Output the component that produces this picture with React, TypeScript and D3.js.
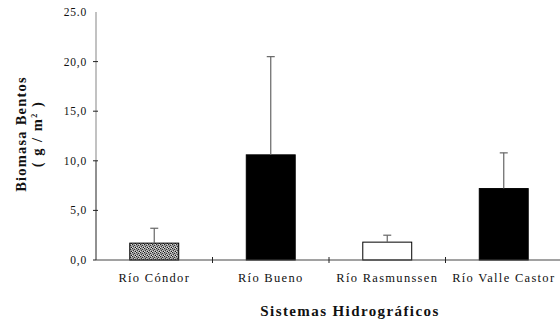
import React from 'react';
import * as d3 from 'd3';

// values (g/m2)
const categories = ['Río Cóndor', 'Río Bueno', 'Río Rasmunssen', 'Río Valle Castor'];
const means = [1.7, 10.6, 1.8, 7.2];
const errorTops = [3.2, 20.5, 2.5, 10.8];
const fills = ['url(#stipple)', '#000', '#fff', '#000'];
const yTicks = [0, 5, 10, 15, 20, 25];
const yTickLabels = ['0,0', '5,0', '10,0', '15,0', '20,0', '25.0'];

const W = 560;
const H = 322;
const margin = { top: 12, right: -2, bottom: 62, left: 96 };

const App = () => {
  const x = d3.scaleBand<string>()
    .domain(categories)
    .range([margin.left, W - margin.right])
    .padding(0);

  const y = d3.scaleLinear()
    .domain([0, 25])
    .range([H - margin.bottom, margin.top]);

  const barW = x.bandwidth() * 0.42;
  const y0 = y(0);
  const font = '"Liberation Serif", "DejaVu Serif", serif';

  // boundaries between categories get the x-axis ticks
  const boundaries = categories.slice(1).map(c => x(c) as number);

  return (
    <svg width={W} height={H} style={{ position: 'absolute', left: 0, top: 0, background: '#fff' }}>
      <defs>
        <pattern id="stipple" width="4" height="4" patternUnits="userSpaceOnUse">
          <rect width="4" height="4" fill="#9a9a9a" />
          <rect x="0" y="0" width="1" height="1" fill="#222" />
          <rect x="2" y="1" width="1" height="1" fill="#333" />
          <rect x="1" y="2" width="1" height="1" fill="#3a3a3a" />
          <rect x="3" y="3" width="1" height="1" fill="#111" />
          <rect x="3" y="0" width="1" height="1" fill="#ddd" />
          <rect x="0" y="3" width="1" height="1" fill="#e4e4e4" />
          <rect x="2" y="2" width="1" height="1" fill="#ccc" />
        </pattern>
      </defs>

      {/* bars */}
      {categories.map((c, i) => {
        const cx = (x(c) as number) + x.bandwidth() / 2;
        return (
          <rect
            key={c}
            x={cx - barW / 2}
            y={y(means[i])}
            width={barW}
            height={y0 - y(means[i])}
            fill={fills[i]}
            stroke="#000"
            strokeWidth={1}
          />
        );
      })}

      {/* error bars (upper only) */}
      {categories.map((c, i) => {
        const cx = (x(c) as number) + x.bandwidth() / 2;
        return (
          <g key={c} stroke="#666" strokeWidth={1.2}>
            <line x1={cx} x2={cx} y1={y(means[i])} y2={y(errorTops[i])} />
            <line x1={cx - 4} x2={cx + 4} y1={y(errorTops[i])} y2={y(errorTops[i])} />
          </g>
        );
      })}

      {/* y axis */}
      <line x1={margin.left} x2={margin.left} y1={y(25)} y2={y(10)} stroke="#999" strokeWidth={1.2} />
      <line x1={margin.left} x2={margin.left} y1={y(10)} y2={y0} stroke="#222" strokeWidth={1} />
      {yTicks.map((t, i) => (
        <g key={t}>
          {t > 0 && t < 25 && (
            <line x1={margin.left - 3} x2={margin.left + 2} y1={y(t)} y2={y(t)} stroke="#222" />
          )}
          <text
            x={margin.left - 9}
            y={y(t)}
            dy="0.35em"
            textAnchor="end"
            fontFamily={font}
            fontSize={11.5}
            letterSpacing={0.8}
            fill="#111"
          >
            {yTickLabels[i]}
          </text>
        </g>
      ))}
      <line x1={margin.left - 3} x2={margin.left} y1={y0} y2={y0} stroke="#222" />

      {/* x axis */}
      <line x1={margin.left} x2={W} y1={y0} y2={y0} stroke="#444" strokeWidth={1} />
      {boundaries.map(b => (
        <line key={b} x1={b} x2={b} y1={y0 - 3} y2={y0 + 3} stroke="#222" />
      ))}
      {categories.map(c => (
        <text
          key={c}
          x={(x(c) as number) + x.bandwidth() / 2}
          y={y0 + 22}
          textAnchor="middle"
          fontFamily={font}
          fontSize={12.5}
          letterSpacing={1.3}
          fill="#111"
        >
          {c}
        </text>
      ))}

      {/* axis titles */}
      <text
        x={350}
        y={316}
        textAnchor="middle"
        fontFamily={font}
        fontSize={15}
        fontWeight="bold"
        letterSpacing={1.4}
        fill="#111"
      >
        Sistemas Hidrográficos
      </text>
      <g transform="translate(26,134) rotate(-90)">
        <text
          textAnchor="middle"
          fontFamily={font}
          fontSize={14.5}
          fontWeight="bold"
          letterSpacing={1.2}
          fill="#111"
        >
          Biomasa Bentos
        </text>
        <text
          y={16}
          textAnchor="middle"
          fontFamily={font}
          fontSize={14.5}
          fontWeight="bold"
          letterSpacing={1.5}
          fill="#111"
        >
          ( g / m<tspan dy={-5} fontSize={8}>2</tspan><tspan dy={5}> )</tspan>
        </text>
      </g>
    </svg>
  );
};

export default App;
